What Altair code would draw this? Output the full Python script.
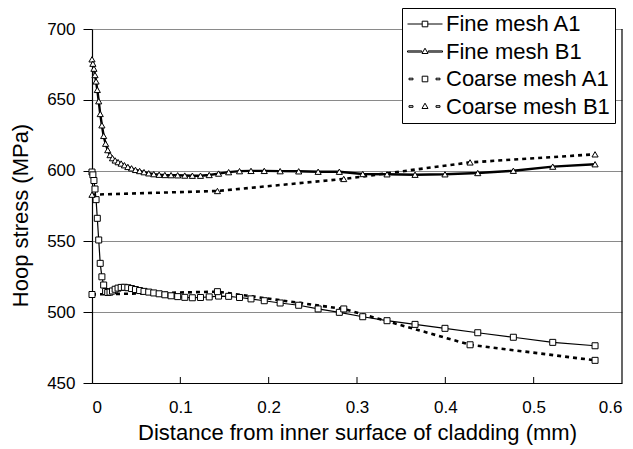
import altair as alt
import pandas as pd

# Distance from the inner surface of the cladding (mm), fine mesh nodes
x_fine = [0.0, 0.001, 0.0022, 0.0034, 0.0046, 0.006, 0.0076, 0.0093, 0.0112, 0.0132,
          0.0154, 0.0178, 0.0204, 0.0232, 0.0262, 0.0295, 0.033, 0.0367, 0.0406, 0.0448,
          0.0492, 0.0539, 0.0589, 0.0642, 0.0699, 0.076, 0.0825, 0.0895, 0.097, 0.105,
          0.1136, 0.1228, 0.1327, 0.1433, 0.1547, 0.167, 0.18, 0.195, 0.213, 0.234,
          0.256, 0.28, 0.3065, 0.334, 0.3657, 0.3996, 0.4367, 0.477, 0.5216, 0.5695]

# Hoop stress (MPa), fine mesh
fine_a1 = [599, 597, 593, 587, 579.5, 566.3, 551, 534.5, 525, 519.2,
           514.6, 513.9, 514.2, 515, 516.2, 517, 517.5, 517.6, 517.3, 516.7,
           516, 515.3, 514.7, 514.2, 513.6, 513, 512.3, 511.6, 511, 510.5,
           510.2, 510.4, 510.8, 511.4, 511.2, 510.4, 509.4, 508.1, 506.5, 504.9,
           502.3, 499.9, 496.8, 494, 491.4, 488.6, 485.5, 482.3, 478.7, 476.3]
fine_b1 = [678.6, 675.5, 672, 667.5, 663, 657, 649, 640, 632, 624.5,
           619, 614.5, 611, 608.8, 607.2, 606, 605, 603.8, 602.6, 601.6,
           600.5, 599.7, 598.9, 598.1, 597.5, 597.1, 596.9, 596.8, 596.7, 596.5,
           596.4, 596.4, 596.9, 597.9, 598.9, 599.6, 599.8, 599.8, 599.6, 599.5,
           599.2, 599.2, 597.6, 597.4, 597.1, 597.4, 598.3, 599.9, 602.8, 604.5]

# Coarse mesh nodes and hoop stress (MPa)
x_coarse = [0.0, 0.142, 0.285, 0.428, 0.5695]
coarse_a1 = [512.5, 514.5, 502.3, 477.0, 466.0]
coarse_b1 = [583.0, 585.6, 594.1, 605.8, 611.5]

series_names = ["Fine mesh A1", "Fine mesh B1", "Coarse mesh A1", "Coarse mesh B1"]
x_ticks = [0, 0.1, 0.2, 0.3, 0.4, 0.5, 0.6]
y_ticks = [450, 500, 550, 600, 650, 700]

rows = []
for name, xs, ys in [
    (series_names[0], x_fine, fine_a1),
    (series_names[1], x_fine, fine_b1),
    (series_names[2], x_coarse, coarse_a1),
    (series_names[3], x_coarse, coarse_b1),
]:
    for xv, yv in zip(xs, ys):
        rows.append({"series": name, "x": xv, "y": yv})
df = pd.DataFrame(rows)

FONT = "Liberation Sans"

x_enc = alt.X(
    "x:Q",
    scale=alt.Scale(domain=[0, 0.6], nice=False, zero=False),
    axis=alt.Axis(
        values=x_ticks,
        labelExpr="datum.value == 0 ? '0' : format(datum.value, '.1f')",
        title="Distance from inner surface of cladding (mm)",
        ticks=False, tickSize=0, labelPadding=16, titlePadding=7,
        grid=False, domainColor="black", domainWidth=1.2,
    ),
)
y_enc = alt.Y(
    "y:Q",
    scale=alt.Scale(domain=[450, 700], nice=False, zero=False),
    axis=alt.Axis(
        values=y_ticks,
        title="Hoop stress (MPa)",
        tickSize=9, tickColor="black", labelPadding=8, titlePadding=14,
        titleY=186,
        grid=True, gridColor="#8a8a8a", gridWidth=1,
        domainColor="black", domainWidth=1.2,
    ),
)

base = alt.Chart(df).encode(x=x_enc, y=y_enc)

line_style = {
    series_names[0]: dict(strokeWidth=1.2),
    series_names[1]: dict(strokeWidth=2.4),
    series_names[2]: dict(strokeWidth=2.6, strokeDash=[4, 4]),
    series_names[3]: dict(strokeWidth=2.6, strokeDash=[4, 4]),
}
marker_shape = {
    series_names[0]: ("square", 36),
    series_names[1]: ("triangle-up", 38),
    series_names[2]: ("square", 36),
    series_names[3]: ("triangle-up", 38),
}

layers = []
for name in series_names:
    sub = base.transform_filter(alt.datum.series == name)
    layers.append(sub.mark_line(color="black", **line_style[name]))
for name in series_names:
    shp, sz = marker_shape[name]
    sub = base.transform_filter(alt.datum.series == name)
    layers.append(sub.mark_point(shape=shp, size=sz, filled=True, fill="white",
                                 stroke="black", strokeWidth=1, opacity=1))

# small inward tick marks along the x axis
tick_df = pd.DataFrame({"x": x_ticks[1:-1]})
x_tick_marks = alt.Chart(tick_df).mark_rule(color="black", strokeWidth=1).encode(
    x=alt.X("x:Q"), y=alt.value(354), y2=alt.value(348)
)
# right-hand frame of the plot area
frame_df = pd.DataFrame({"x": [0.6]})
right_frame = alt.Chart(frame_df).mark_rule(color="black", strokeWidth=1.2).encode(
    x=alt.X("x:Q"), y=alt.value(0), y2=alt.value(354)
)

# legend symbols (unit = 10 px): line segment with the marker in the middle
sq = "M-0.28,-0.28H0.28V0.28H-0.28Z"
tri = "M0,-0.33L0.3,0.2H-0.3Z"
thin_line = "M-1.75,0H-0.28M0.28,0H1.75"
thick_line = "M-1.75,-0.06H-0.32V0.06H-1.75Z M0.32,-0.06H1.75V0.06H0.32Z"
dashes = "M-1.6,-0.08H-1.2V0.08H-1.6Z M1.1,-0.08H1.5V0.08H1.1Z"
legend_paths = [thin_line + sq, thick_line + tri, dashes + sq, dashes + tri]

legend_layer = alt.Chart(pd.DataFrame({"series": series_names})).transform_filter(
    "false"
).mark_point(filled=False, color="black", strokeWidth=1, opacity=1).encode(
    x=alt.value(0),
    y=alt.value(0),
    shape=alt.Shape(
        "series:N",
        scale=alt.Scale(domain=series_names, range=legend_paths),
        legend=alt.Legend(
            title=None, orient="none", legendX=310, legendY=-21,
            labelFont=FONT, labelFontSize=22, labelColor="black", labelLimit=300,
            symbolSize=400, symbolStrokeWidth=1, symbolStrokeColor="black",
            symbolOpacity=1, symbolOffset=7, labelOffset=10,
            strokeColor="black", fillColor="white", padding=5, rowPadding=5.5,
        ),
    ),
)

chart = alt.layer(*layers, x_tick_marks, right_frame, legend_layer).properties(
    width=530, height=354,
    background="white",
    autosize=alt.AutoSizeParams(type="none"),
    padding={"left": 92, "top": 29, "right": 11, "bottom": 66},
).configure_view(stroke=None).configure_axis(
    labelFont=FONT, titleFont=FONT, labelFontSize=17, titleFontSize=22,
    labelColor="black", titleColor="black", titleFontWeight="normal",
)

chart.save("out.html", embed_options={"renderer": "svg", "actions": False})
